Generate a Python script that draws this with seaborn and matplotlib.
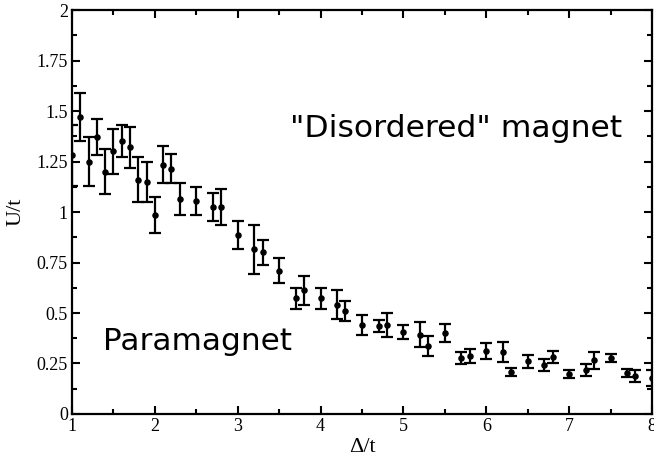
import numpy as np
import pandas as pd
import matplotlib
matplotlib.use("Agg")
import matplotlib.pyplot as plt
import seaborn as sns
from matplotlib.ticker import MultipleLocator, FixedFormatter, FixedLocator

delta = [1.0, 1.1, 1.2, 1.3, 1.4, 1.5, 1.6, 1.7, 1.8, 1.9, 2.0, 2.1, 2.2, 2.3,
         2.5, 2.7, 2.8, 3.0, 3.2, 3.3, 3.5, 3.7, 3.8, 4.0, 4.2, 4.3, 4.5, 4.7,
         4.8, 5.0, 5.2, 5.3, 5.5, 5.7, 5.8, 6.0, 6.2, 6.3, 6.5, 6.7, 6.8, 7.0,
         7.2, 7.3, 7.5, 7.7, 7.8, 8.0]
u_val = [1.28, 1.47, 1.25, 1.37, 1.20, 1.30, 1.35, 1.32, 1.16, 1.15, 0.985,
         1.235, 1.215, 1.065, 1.055, 1.025, 1.025, 0.885, 0.815, 0.80, 0.71,
         0.572, 0.612, 0.572, 0.542, 0.511, 0.441, 0.434, 0.441, 0.405, 0.393,
         0.335, 0.401, 0.277, 0.289, 0.31, 0.305, 0.207, 0.26, 0.244, 0.28,
         0.198, 0.219, 0.265, 0.275, 0.202, 0.186, 0.178]
u_err = [0.15, 0.12, 0.12, 0.09, 0.11, 0.11, 0.08, 0.10, 0.11, 0.10, 0.09,
         0.09, 0.07, 0.08, 0.07, 0.07, 0.09, 0.07, 0.12, 0.06, 0.06, 0.05,
         0.07, 0.05, 0.07, 0.05, 0.05, 0.03, 0.06, 0.035, 0.06, 0.05, 0.047,
         0.03, 0.035, 0.04, 0.05, 0.02, 0.03, 0.03, 0.03, 0.022, 0.03, 0.04,
         0.02, 0.02, 0.03, 0.04]

x_ticks = [1, 2, 3, 4, 5, 6, 7, 8]
y_ticks = [0, 0.25, 0.5, 0.75, 1, 1.25, 1.5, 1.75, 2]
y_tick_labels = ["0", "0.25", "0.5", "0.75", "1", "1.25", "1.5", "1.75", "2"]

df = pd.DataFrame({"delta": delta, "U": u_val, "err": u_err})

sns.set_style("white")
serif = ["Liberation Serif", "DejaVu Serif"]

fig = plt.figure(figsize=(6.54, 4.66), dpi=100)
ax = fig.add_axes([0.110, 0.1116, 0.887, 0.8669])

ax.errorbar(df["delta"], df["U"], yerr=df["err"], fmt="none", ecolor="black",
            elinewidth=1.6, capsize=4.2, capthick=1.6, zorder=2)
sns.scatterplot(data=df, x="delta", y="U", ax=ax, color="black", s=22,
                edgecolor="black", linewidth=0, zorder=3, legend=False)

ax.set_xlim(1, 8)
ax.set_ylim(0, 2)
ax.xaxis.set_major_locator(FixedLocator(x_ticks))
ax.xaxis.set_minor_locator(MultipleLocator(0.5))
ax.yaxis.set_major_locator(FixedLocator(y_ticks))
ax.yaxis.set_major_formatter(FixedFormatter(y_tick_labels))
ax.yaxis.set_minor_locator(MultipleLocator(0.125))

ax.tick_params(which="both", direction="in", top=True, right=True,
               bottom=True, left=True, width=1.5, colors="black",
               labelcolor="black")
ax.tick_params(which="major", length=5.5, labelsize=13, pad=3)
ax.tick_params(which="minor", length=3.5)
for lab in ax.get_xticklabels() + ax.get_yticklabels():
    lab.set_fontfamily(serif)

for sp in ax.spines.values():
    sp.set_linewidth(1.6)
    sp.set_color("black")

ax.set_xlabel("Δ/t", fontsize=16, family=serif, labelpad=2, color="black")
ax.set_ylabel("U/t", fontsize=16, family=serif, labelpad=8, color="black")

ax.text(3.63, 1.37, '"Disordered" magnet', fontsize=22.6, family="DejaVu Sans",
        ha="left", va="baseline", color="black")
ax.text(1.374, 0.317, "Paramagnet", fontsize=22.4, family="DejaVu Sans",
        ha="left", va="baseline", color="black")

fig.savefig("out.png", dpi=100)
